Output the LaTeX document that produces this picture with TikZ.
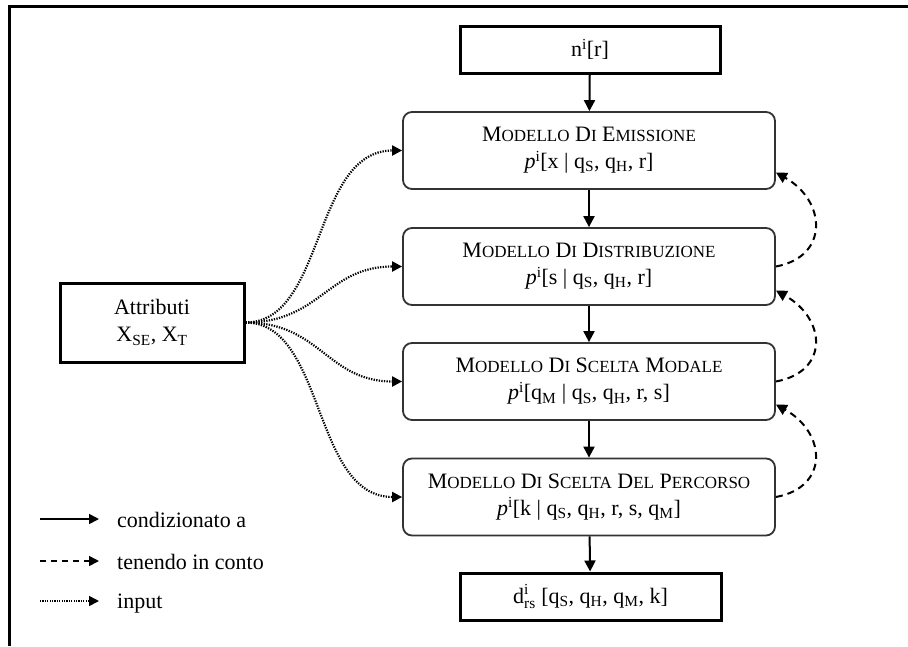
\documentclass[tikz,border=0pt]{standalone}
\usepackage{amsmath}
\usepackage{fontspec}
\setmainfont{Liberation Serif}
\usetikzlibrary{arrows.meta,calc}
\newcommand\smc[1]{{\fontsize{17}{17}\selectfont #1}}
\newcommand\sbs[1]{\textsubscript{#1}}
\newcommand\sps[1]{\textsuperscript{#1}}
\begin{document}
\begin{tikzpicture}[x=1pt,y=-1pt,
  font=\fontsize{22}{27}\selectfont,
  sqbox/.style={draw=black, line width=3pt, minimum width=260pt, minimum height=47pt, inner sep=2pt},
  rbox/.style={draw=black!80, line width=1.8pt, rounded corners=9pt, minimum width=372pt, minimum height=77pt, align=center, inner sep=2pt},
  tip/.style={-{Triangle[length=11pt,width=11pt]}},
  solidarr/.style={tip, line width=2pt},
  dasharr/.style={tip, line width=2pt, dash pattern=on 7pt off 5pt},
  dotarr/.style={-{Triangle[length=10pt,width=10pt]}, line width=2.2pt, dash pattern=on 1.3pt off 1.3pt},
  legtext/.style={anchor=base west, inner sep=0pt}
]
\useasboundingbox (0,0) rectangle (908,646);
\fill[white] (0,0) rectangle (908,646);
% frame
\draw[line width=3pt] (9,646) -- (9,6.5) -- (908,6.5);

% nodes
\node[sqbox] (top) at (590,49.5) {n\sps{i}[r]};
\node[rbox] (emis) at (589,150.5) {M\smc{ODELLO} D\smc{I} E\smc{MISSIONE}\\ \textit{p}\sps{i}[x | q\sbs{S}, q\sbs{H}, r]};
\node[rbox] (dist) at (589,266.5) {M\smc{ODELLO} D\smc{I} D\smc{ISTRIBUZIONE}\\ \textit{p}\sps{i}[s | q\sbs{S}, q\sbs{H}, r]};
\node[rbox] (modal) at (589,381.5) {M\smc{ODELLO} D\smc{I} S\smc{CELTA} M\smc{ODALE}\\ \textit{p}\sps{i}[q\sbs{M} | q\sbs{S}, q\sbs{H}, r, s]};
\node[rbox] (perc) at (589,497) {M\smc{ODELLO} D\smc{I} S\smc{CELTA} D\smc{EL} P\smc{ERCORSO}\\ \textit{p}\sps{i}[k | q\sbs{S}, q\sbs{H}, r, s, q\sbs{M}]};
\node[sqbox, minimum width=261pt] (bot) at (590.5,596.5) {$\text{d}^{\text{i}}_{\text{rs}}$ [q\sbs{S}, q\sbs{H}, q\sbs{M}, k]};
\node[sqbox, minimum width=184pt, minimum height=79pt, align=center] (attr) at (152,322.5) {Attributi\\ X\sbs{SE}, X\sbs{T}};

% vertical solid arrows
\draw[solidarr] (top) -- (emis);
\draw[solidarr] (emis) -- (dist);
\draw[solidarr] (dist) -- (modal);
\draw[solidarr] (modal) -- (perc);
\draw[solidarr] (perc) -- (bot);

% dotted inputs
\draw[dotarr] (attr.east) .. controls +(80,0) and +(-90,0) .. (emis.west);
\draw[dotarr] (attr.east) .. controls +(75,0) and +(-75,0) .. (dist.west);
\draw[dotarr] (attr.east) .. controls +(75,0) and +(-75,0) .. (modal.west);
\draw[dotarr] (attr.east) .. controls +(80,0) and +(-90,0) .. (perc.west);

% dashed feedback
\draw[dasharr] (dist.east) .. controls +(54,-10) and +(50,28) .. ([yshift=-22pt]emis.east);
\draw[dasharr] (modal.east) .. controls +(54,-10) and +(50,28) .. ([yshift=-24pt]dist.east);
\draw[dasharr] (perc.east) .. controls +(54,-10) and +(50,28) .. ([yshift=-23pt]modal.east);

% legend
\coordinate (l1a) at (40,519);  \coordinate (l1b) at (99,519);
\coordinate (l2a) at (40,561);  \coordinate (l2b) at (99,561);
\coordinate (l3a) at (40,601);  \coordinate (l3b) at (99,601);
\draw[solidarr, line width=1.6pt, -{Triangle[length=10pt,width=10pt]}] (l1a) -- (l1b);
\draw[dasharr, line width=1.6pt, dash pattern=on 6pt off 5pt, -{Triangle[length=10pt,width=10pt]}] (l2a) -- (l2b);
\draw[dotarr, line width=1.6pt, dash pattern=on 1.2pt off 1.2pt] (l3a) -- (l3b);
\node[legtext] (t1) at ($(l1b)+(18,8)$) {condizionato a};
\node[legtext] (t2) at ($(l2b)+(18,8)$) {tenendo in conto};
\node[legtext] (t3) at ($(l3b)+(18,7)$) {input};
\end{tikzpicture}
\end{document}
